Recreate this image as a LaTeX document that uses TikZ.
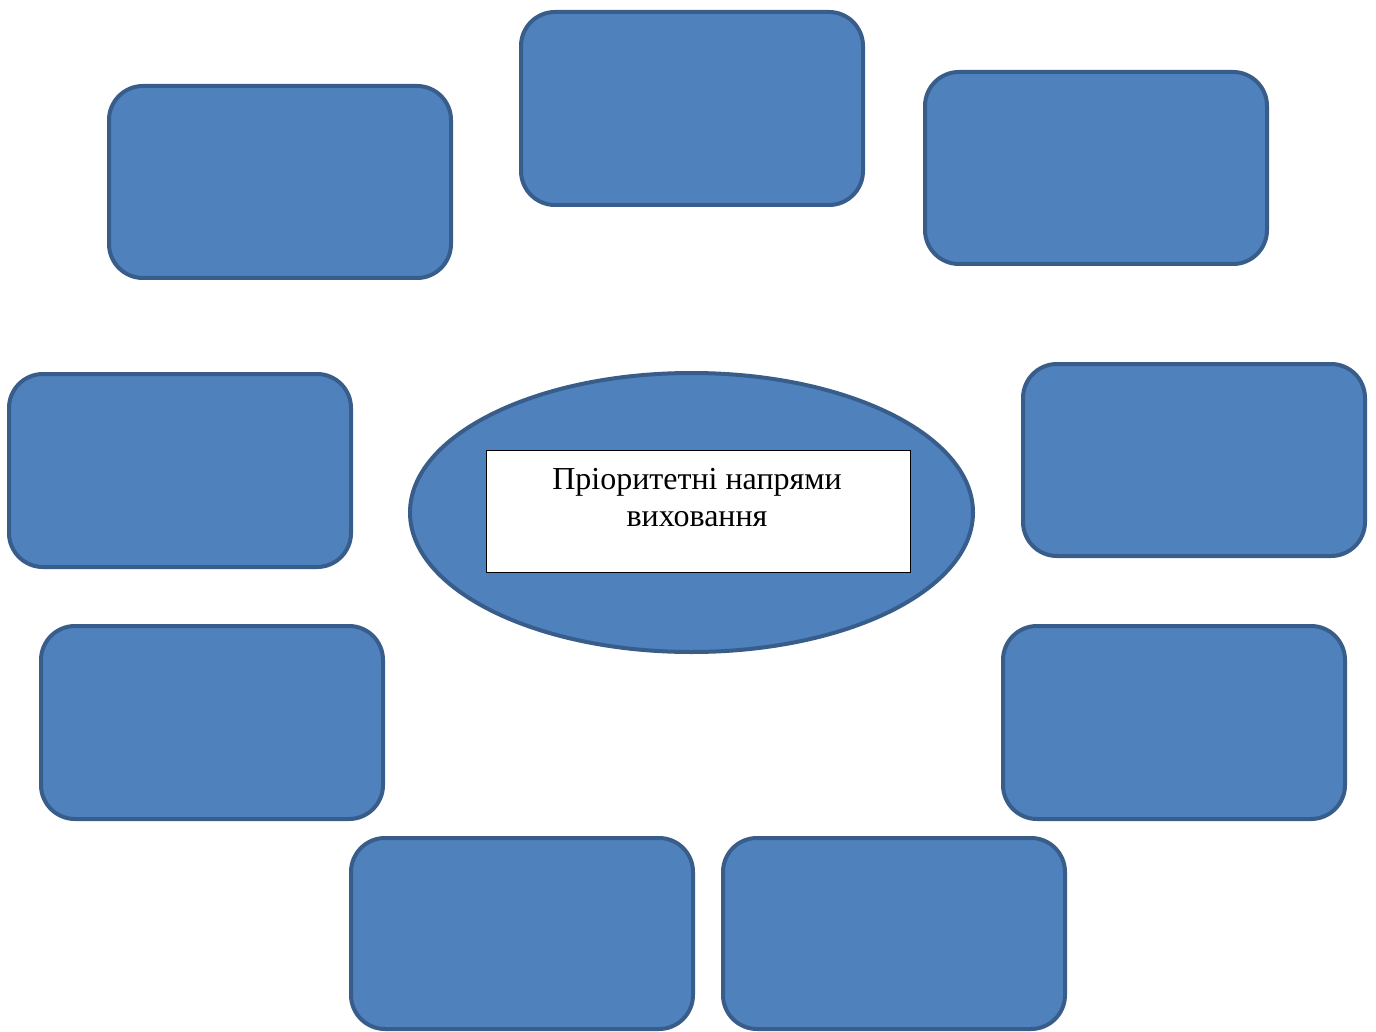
\documentclass[tikz,border=0pt]{standalone}
\usepackage{fontspec}
\setmainfont{Liberation Serif}
\usetikzlibrary{shapes.geometric}
\definecolor{boxfill}{HTML}{4F81BD}
\definecolor{boxline}{HTML}{385D8A}
\tikzset{
  rbox/.style={draw=boxline, fill=boxfill, line width=4pt, rounded corners=34pt},
}
\begin{document}
\begin{tikzpicture}[x=1pt,y=-1pt]
\useasboundingbox[fill=white] (0,0) rectangle (1376,1032);
\draw[rbox] (109,86) rectangle (451,278) coordinate (b1);
\draw[rbox] (521,12) rectangle (863,205) coordinate (b2);
\draw[rbox] (925,72) rectangle (1267,264) coordinate (b3);
\draw[rbox] (9,374) rectangle (351,567) coordinate (b4);
\draw[rbox] (1023,364) rectangle (1365,556) coordinate (b5);
\draw[rbox] (41,626) rectangle (383,819) coordinate (b6);
\draw[rbox] (1003,626) rectangle (1345,819) coordinate (b7);
\draw[rbox] (351,838) rectangle (693,1029) coordinate (b8);
\draw[rbox] (723,838) rectangle (1065,1029) coordinate (b9);
\node[ellipse, draw=boxline, fill=boxfill, line width=4pt, minimum width=563pt, minimum height=279pt, inner sep=0pt] (ell) at (691.5,512.5) {};
\node[draw=black, fill=white, line width=0.8pt, minimum width=424pt, minimum height=122pt, inner sep=0pt, anchor=north west] (rect) at (485.5,449.5) {};
\node[align=center, font=\fontsize{32}{37}\selectfont, anchor=north, inner sep=0pt] (txt) at (697,468) {Пріоритетні напрями\\виховання};
\end{tikzpicture}
\end{document}
